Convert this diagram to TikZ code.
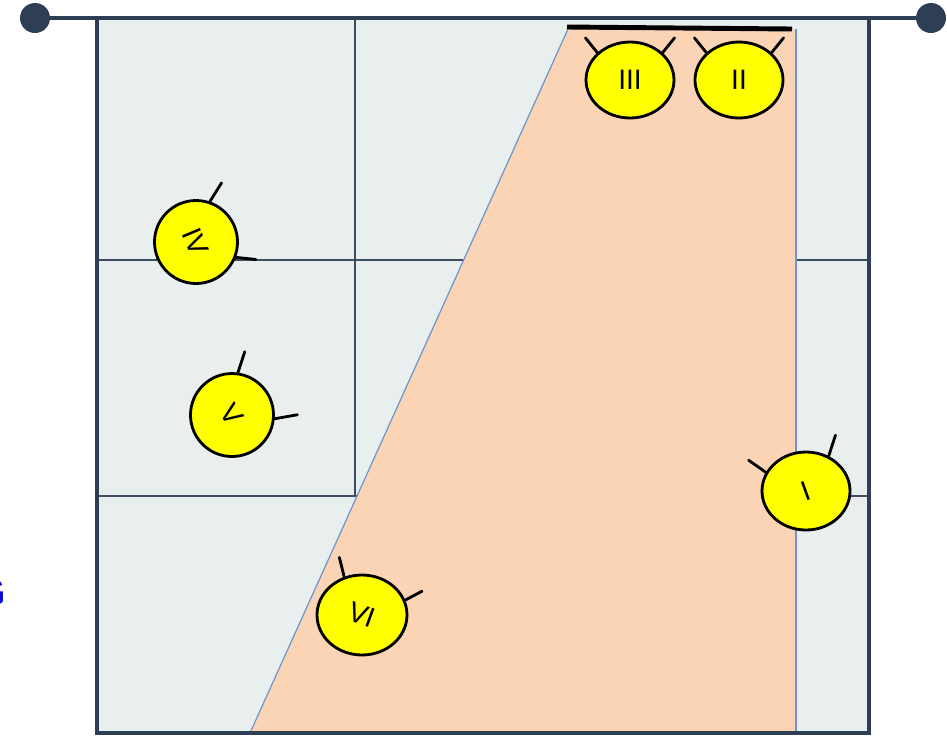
\documentclass[tikz,border=0pt]{standalone}
\usepackage{fontspec}
\setmainfont{Liberation Sans}
\usetikzlibrary{shapes.geometric}
\definecolor{navy}{RGB}{46,62,84}
\definecolor{gridc}{RGB}{62,76,96}
\definecolor{boxfill}{RGB}{233,239,239}
\definecolor{peach}{RGB}{250,212,180}
\definecolor{edgeblue}{RGB}{110,150,200}
\definecolor{bugyellow}{RGB}{255,255,0}
\definecolor{blueG}{RGB}{10,10,215}
\begin{document}
\begin{tikzpicture}[x=0.02cm,y=0.02cm,
  bug/.style={ellipse,draw=black,line width=1.6pt,fill=bugyellow,inner sep=0pt,
    minimum width=1.76cm,minimum height=1.52cm,font=\fontsize{16}{18}\selectfont},
  roundbug/.style={bug,minimum width=1.66cm,minimum height=1.66cm},
  leg/.style={line width=1.6pt,black,line cap=round},
  gridline/.style={gridc,line width=1.4pt},
  railline/.style={navy,line width=2.4pt}
  ]
\useasboundingbox (0,0) rectangle (947,-735);
% box
\fill[boxfill] (97,-18) rectangle (869,-733);
\coordinate (gt) at (355,-18);
\coordinate (gb) at (355,-495);
\coordinate (h1l) at (97,-260);
\coordinate (h1r) at (869,-260);
\coordinate (h2l) at (97,-496);
\coordinate (h2r) at (869,-496);
\draw[gridline] (gt) -- (gb);
\draw[gridline] (h1l) -- (h1r);
\draw[gridline] (h2l) -- (h2r);
% trapezoid
\coordinate (tbl) at (250,-733);
\coordinate (ttl) at (568,-29);
\coordinate (ttr) at (796,-29);
\coordinate (tbr) at (796,-733);
\fill[peach] (tbl) -- (ttl) -- (ttr) -- (tbr) -- cycle;
\draw[edgeblue,line width=0.7pt] (tbl) -- (ttl);
\draw[edgeblue,line width=0.7pt] (ttr) -- (tbr);
% outer border
\coordinate (bl) at (97,-18);
\coordinate (bll) at (97,-733);
\coordinate (brr) at (869,-733);
\coordinate (br) at (869,-18);
\draw[navy,line width=2.5pt] (bl) -- (bll) -- (brr) -- (br);
% rail
\node[circle,fill=navy,inner sep=0pt,minimum size=0.6cm] (lend) at (35,-18) {};
\node[circle,fill=navy,inner sep=0pt,minimum size=0.6cm] (rend) at (931,-18) {};
\draw[railline] (lend) -- (rend);
% black bar
\coordinate (bar1) at (567,-27);
\coordinate (bar2) at (792,-29);
\draw[black,line width=2.8pt] (bar1) -- (bar2);
% bugs
\node[bug] (iii) at (630,-80) {III};
\node[bug] (ii) at (739,-80) {II};
\node[roundbug] (iv) at (196,-242) {\rotatebox{-67}{IV}};
\node[roundbug] (v) at (232,-415) {\rotatebox{-55}{V}};
\node[bug,minimum width=1.76cm,minimum height=1.56cm] (i) at (806,-491) {\rotatebox{20}{I}};
\node[bug,minimum width=1.8cm,minimum height=1.6cm] (vi) at (362,-615) {\rotatebox{-20}{VI}};
% legs
\draw[leg] (iii.140) -- ++(129:0.38cm);
\draw[leg] (iii.40) -- ++(51:0.38cm);
\draw[leg] (ii.140) -- ++(129:0.38cm);
\draw[leg] (ii.40) -- ++(51:0.38cm);
\draw[leg] (iv.71) -- ++(58:0.44cm);
\draw[leg] (iv.-21) -- ++(-6:0.4cm);
\draw[leg] (v.82) -- ++(72:0.44cm);
\draw[leg] (v.-5) -- ++(10:0.46cm);
\draw[leg] (i.155) -- ++(145:0.42cm);
\draw[leg] (i.57) -- ++(72:0.44cm);
\draw[leg] (vi.115) -- ++(104:0.4cm);
\draw[leg] (vi.19) -- ++(28:0.38cm);
% clipped G
\node[anchor=base east,inner sep=0pt,text=blueG,font=\fontsize{23}{26}\selectfont\bfseries] (g) at (6,-606) {G};
\end{tikzpicture}
\end{document}
